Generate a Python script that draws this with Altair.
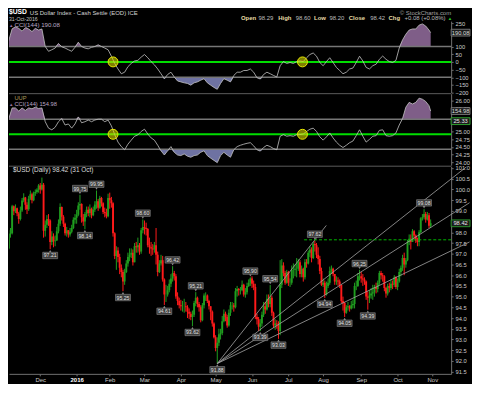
import altair as alt
import pandas as pd

# ---------------- data ----------------
# $USD daily candles, trading days 2 Nov 2015 .. 31 Oct 2016 (index 0..257)
close_px = [
    # Nov 2015
    97.18, 97.25, 97.92, 97.95, 99.22, 98.98, 99.12, 98.88, 98.62, 99.02, 99.48, 99.62, 99.28, 99.08, 99.56, 99.78, 99.50, 99.82, 99.88, 99.98, 100.18,
    # Dec 2015
    100.00, 100.22, 98.07, 98.35, 98.62, 98.55, 97.55, 97.80, 97.58, 97.62, 98.05, 98.40, 99.18, 98.72, 98.40, 97.95, 98.10, 97.90, 98.02, 98.20, 98.58, 98.68,
    # Jan 2016
    98.82, 99.25, 99.32, 98.70, 98.50, 98.85, 99.05, 98.90, 99.10, 98.80, 99.05, 99.30, 99.45, 99.15, 99.60, 99.35, 98.95, 98.90, 98.75, 99.60,
    # Feb
    99.50, 99.35, 97.95, 96.90, 97.15, 96.85, 96.35, 96.15, 95.70, 96.15, 96.55, 96.85, 96.95, 97.05, 96.60, 97.35, 97.30, 97.40, 97.10, 98.10, 98.25,
    # Mar
    98.20, 98.15, 97.40, 97.30, 97.25, 97.20, 97.40, 96.95, 96.15, 96.55, 96.70, 95.80, 95.10, 95.10, 95.30, 95.60, 95.85, 96.10, 95.95, 95.00, 94.80, 94.60,
    # Apr
    94.55, 94.55, 94.55, 94.50, 94.30, 94.20, 94.05, 94.15, 94.70, 94.95, 94.65, 94.50, 93.90, 94.60, 95.05, 95.05, 94.80, 94.55, 94.30, 93.75, 93.10,
    # May
    92.60, 92.85, 93.25, 93.30, 93.85, 94.20, 94.05, 93.65, 94.25, 94.60, 94.60, 94.50, 95.25, 95.35, 95.30, 95.30, 95.55, 95.10, 95.20, 95.50, 95.65, 95.85,
    # Jun
    95.60, 95.45, 94.05, 93.95, 93.60, 93.75, 94.15, 94.55, 94.40, 94.90, 94.65, 94.95, 94.25, 93.65, 93.75, 93.70, 93.40, 95.55, 96.45, 96.10, 95.65, 96.15,
    # Jul
    95.65, 95.65, 96.25, 96.25, 96.30, 96.30, 96.60, 96.05, 96.30, 95.90, 96.60, 96.55, 97.05, 97.20, 96.80, 97.45, 97.40, 96.95, 96.75, 96.20, 95.55,
    # Aug
    95.65, 95.10, 95.50, 95.65, 96.20, 96.30, 96.05, 95.70, 95.75, 95.70, 95.55, 94.80, 94.70, 94.25, 94.50, 94.55, 94.45, 94.60, 94.65, 95.50, 95.50, 95.95, 95.95,
    # Sep
    95.85, 95.80, 95.70, 95.00, 94.95, 95.05, 95.15, 95.20, 95.45, 95.35, 95.65, 96.10, 96.00, 95.95, 95.40, 95.15, 95.50, 95.40, 95.60, 95.55, 95.90, 95.45,
    # Oct
    95.70, 96.15, 96.35, 96.80, 96.50, 96.70, 97.55, 97.70, 97.55, 98.05, 97.85, 97.60, 97.55, 98.00, 98.65, 98.70, 98.85, 98.60, 98.80, 98.30, 98.42,
]
high_px = [
    97.40, 97.55, 98.10, 98.20, 99.28, 99.25, 99.30, 99.15, 98.95, 99.20, 99.60, 99.82, 99.65, 99.40, 99.70, 99.95, 99.85, 99.90, 100.00, 100.05, 100.25,
    100.30, 100.55, 100.30, 98.55, 98.80, 98.85, 98.60, 98.05, 97.95, 97.85, 98.25, 98.60, 99.35, 99.20, 98.80, 98.45, 98.25, 98.10, 98.20, 98.35, 98.70, 98.85,
    99.05, 99.40, 99.75, 99.35, 98.85, 98.95, 99.20, 99.20, 99.30, 99.15, 99.20, 99.45, 99.95, 99.55, 99.70, 99.65, 99.40, 99.15, 99.10, 99.80,
    99.85, 99.65, 99.40, 98.00, 97.35, 97.30, 97.00, 96.50, 96.25, 96.30, 96.70, 97.05, 97.25, 97.25, 97.20, 97.50, 97.55, 97.75, 97.50, 98.20, 98.60,
    98.55, 98.45, 98.20, 97.75, 97.55, 97.45, 97.55, 98.20, 97.10, 96.70, 96.95, 96.90, 95.85, 95.55, 95.50, 95.80, 96.05, 96.42, 96.20, 96.05, 95.20, 94.95,
    94.85, 94.80, 94.90, 94.75, 94.60, 94.45, 94.30, 94.35, 94.80, 95.21, 95.00, 94.75, 94.60, 94.70, 95.15, 95.20, 95.10, 94.85, 94.55, 94.35, 93.80,
    93.20, 93.10, 93.50, 93.50, 94.10, 94.40, 94.30, 94.15, 94.40, 94.75, 94.75, 94.70, 95.40, 95.50, 95.40, 95.45, 95.75, 95.60, 95.40, 95.65, 95.80, 95.90,
    95.95, 95.75, 95.60, 94.20, 94.05, 93.95, 94.30, 94.75, 94.75, 95.10, 95.10, 95.54, 95.05, 94.30, 93.95, 93.90, 93.85, 96.70, 96.75, 96.60, 96.20, 96.25,
    96.20, 95.85, 96.45, 96.55, 96.50, 96.80, 96.75, 96.70, 96.45, 96.35, 96.75, 96.75, 97.15, 97.35, 97.30, 97.55, 97.62, 97.50, 97.30, 96.90, 96.35,
    95.85, 95.75, 95.70, 95.85, 96.40, 96.45, 96.35, 96.05, 95.95, 95.90, 95.80, 95.55, 95.00, 94.75, 94.60, 94.75, 94.60, 94.80, 94.85, 95.65, 95.75, 96.10, 96.25,
    96.15, 96.05, 95.90, 95.75, 95.25, 95.30, 95.40, 95.55, 95.55, 95.65, 95.75, 96.20, 96.20, 96.10, 96.00, 95.45, 95.60, 95.65, 95.80, 95.75, 96.00, 95.95,
    95.85, 96.30, 96.45, 96.95, 97.05, 96.80, 97.65, 97.90, 97.90, 98.15, 98.10, 97.90, 97.75, 98.10, 98.70, 98.85, 99.08, 98.95, 98.95, 98.90, 98.60,
]
low_px = [
    96.90, 96.95, 97.20, 97.75, 97.90, 98.80, 98.90, 98.75, 98.40, 98.55, 98.95, 99.40, 99.05, 98.85, 99.00, 99.50, 99.35, 99.45, 99.70, 99.80, 99.85,
    99.80, 99.95, 97.75, 97.80, 98.20, 98.30, 97.21, 97.40, 97.30, 97.35, 97.60, 97.95, 98.30, 98.55, 98.25, 97.85, 97.80, 97.75, 97.80, 97.95, 98.15, 98.40,
    98.40, 98.75, 99.05, 98.45, 98.30, 98.14, 98.70, 98.75, 98.70, 98.65, 98.75, 98.95, 99.10, 99.00, 99.10, 99.20, 98.85, 98.70, 98.65, 98.70,
    99.10, 99.15, 97.80, 96.75, 96.25, 96.60, 96.05, 95.90, 95.25, 95.55, 96.10, 96.40, 96.65, 96.80, 96.45, 96.65, 97.05, 97.05, 96.95, 97.00, 97.95,
    97.90, 97.85, 97.30, 97.00, 96.90, 96.95, 97.05, 96.50, 95.95, 96.10, 96.45, 95.70, 94.61, 94.75, 95.00, 95.20, 95.45, 95.70, 95.75, 94.90, 94.60, 94.45,
    94.35, 94.30, 94.25, 94.30, 94.00, 93.95, 93.90, 93.62, 94.05, 94.55, 94.50, 94.30, 93.80, 93.85, 94.45, 94.80, 94.70, 94.40, 93.90, 93.60, 93.05,
    92.45, 91.88, 92.70, 93.00, 93.20, 93.80, 93.85, 93.55, 93.60, 94.10, 94.40, 94.30, 94.45, 95.00, 95.05, 95.10, 95.25, 95.00, 94.95, 95.10, 95.45, 95.50,
    95.40, 95.30, 93.95, 93.70, 93.40, 93.39, 93.60, 94.05, 94.20, 94.35, 94.50, 94.50, 94.10, 93.55, 93.45, 93.50, 93.03, 93.20, 95.40, 95.95, 95.55, 95.60,
    95.50, 95.45, 95.55, 95.85, 95.95, 95.90, 96.20, 95.90, 95.90, 95.70, 95.80, 96.35, 96.50, 96.85, 96.60, 96.75, 97.10, 96.80, 96.50, 96.05, 95.50,
    95.45, 94.94, 95.05, 95.40, 95.55, 96.05, 95.95, 95.55, 95.55, 95.50, 95.40, 94.70, 94.35, 94.05, 94.20, 94.35, 94.30, 94.40, 94.45, 94.45, 95.30, 95.45, 95.75,
    95.65, 95.50, 95.55, 94.85, 94.39, 94.70, 94.90, 94.85, 95.00, 95.15, 95.20, 95.55, 95.80, 95.70, 95.25, 94.95, 95.05, 95.20, 95.30, 95.35, 95.45, 95.35,
    95.30, 95.65, 95.95, 96.20, 96.00, 96.35, 96.65, 97.40, 97.20, 97.55, 97.70, 97.50, 97.35, 97.35, 97.95, 98.55, 98.60, 98.45, 98.55, 98.20, 98.20,
]
first_open = 97.00

# month ticks (trading-day index of first session of each month)
month_start_idx = [21, 43, 63, 84, 106, 127, 149, 171, 192, 215, 237, 258]
month_labels = ["Dec", "2016", "Feb", "Mar", "Apr", "May", "Jun", "Jul", "Aug", "Sep", "Oct", "Nov"]

# CCI(144) sampled every 2nd session, plus the last session
cci_usd = [
    55, 140, 215, 228, 218, 200, 222, 214, 197, 218,
    207, 214, 100, 69, 79, 90, 120, 98, 90, 79,
    69, 95, 128, 100, 90, 85, 95, 100, 111, 100,
    90, 79, 37, -10, -46, -77, -67, -31, -10, 6,
    10, 31, 48, 27, 2, -19, -46, -77, -109, -82,
    -67, -98, -124, -130, -136, -140, -151, -136, -130, -119,
    -109, -136, -151, -166, -178, -140, -109, -119, -130, -88,
    -67, -67, -56, -56, -46, -67, -103, -111, -82, -67,
    -77, -88, -98, -25, 2, -10, -4, -10, 2, 6,
    2, 27, 48, 58, 37, -4, -25, 2, 27, -4,
    -36, -56, -77, -67, -46, -40, -4, 37, 6, -36,
    -46, -25, -15, 17, 38, 17, 2, -4, 10, 90,
    143, 180, 207, 214, 214, 239, 247, 233, 207,
    190.08,
]
cci_uup = [
    19, 105, 176, 176, 155, 176, 159, 176, 170, 181,
    172, 176, 84, 41, 30, 47, 84, 105, 62, 69,
    41, 69, 116, 77, 84, 95, 84, 95, 101, 101,
    84, 95, 56, -2, -52, -82, -103, -66, -39, -13,
    -4, 19, 34, 2, -24, -39, -73, -110, -138, -110,
    -82, -120, -138, -142, -131, -146, -153, -142, -138, -120,
    -110, -142, -159, -174, -189, -142, -120, -138, -153, -103,
    -82, -73, -66, -60, -56, -77, -103, -112, -88, -73,
    -82, -95, -103, -13, -2, -13, -9, -13, -2, -2,
    2, 19, 34, 41, 19, -17, -39, -17, 9, -24,
    -52, -73, -88, -73, -56, -45, -9, 30, -13, -52,
    -34, -13, -9, 26, 30, -9, -13, -9, 9, 62,
    105, 181, 213, 202, 213, 241, 234, 219, 191,
    154.98,
]
uup_last = 25.33

# annotated swing highs / lows
pivot_idx = [27, 45, 48, 55, 71, 83, 96, 101, 113, 115, 128, 148, 154, 160, 165, 187, 193, 205, 214, 219, 253]
pivot_val = [97.21, 99.75, 98.14, 99.95, 95.25, 98.60, 94.61, 96.42, 93.62, 95.21, 91.88, 95.90, 93.39, 95.54, 93.03,
             97.62, 94.94, 94.05, 96.25, 94.39, 99.08]
pivot_side = ["low", "high", "low", "high", "low", "high", "low", "high", "low", "high", "low", "high", "low", "high", "low",
              "high", "low", "low", "high", "low", "high"]

# fan trend lines from the May low (end points where they leave the picture)
fan_start_idx = 128
fan_start_px = 91.88
fan_end_idx = [193.9, 278.6, 280.5, 280.5]
fan_end_px = [98.32, 101.05, 99.38, 97.55]

# horizontal resistance (dashed)
res_level = 97.65
res_from_idx = 180.5
res_to_idx = 269.4

# CCI zero-line crossing markers
signal_idx = [65, 179.5]

last_close = 98.42

# ---------------- styling / layout ----------------
FN = "Liberation Sans, Arial, sans-serif"
GREEN = "#1f9e1f"
RED = "#ff1a1a"
W = 445
X_DOM = [2.102, 269.37]
BOX_X = W + 9.5

xs = alt.Scale(domain=X_DOM, nice=False, zero=False)


def label(text, x, y, size, color, weight="normal", align="left", baseline="alphabetic"):
    return alt.Chart(pd.DataFrame({"t": [text]})).mark_text(
        align=align, baseline=baseline, font=FN, fontSize=size,
        fontWeight=weight, color=color
    ).encode(x=alt.value(x), y=alt.value(y), text="t:N")


def box_shape(half_h):
    return f"M-1,-{half_h}L1,-{half_h}L1,{half_h}L-1,{half_h}Z"


# ---------------- header ----------------
LBL = "#e6dca6"
VAL = "#bdbdbd"
RY = 6.3
hdr = [
    label("$USD", 0, 0.2, 6.8, "#ffffff", "bold", baseline="top"),
    label("US Dollar Index - Cash Settle (EOD) ICE", 21, 1.0, 6, "#d4d4d4", baseline="top"),
    label("31-Oct-2016", 0, 7.7, 5.2, "#c4c4c4", baseline="top"),
    label("\u00a9 StockCharts.com", 445, 0.4, 6, "#a0a0a0", align="right", baseline="top"),
    label("Open", 233.5, RY, 6, LBL, "bold", baseline="top"),
    label("98.29", 251, RY, 6, VAL, baseline="top"),
    label("High", 271, RY, 6, LBL, "bold", baseline="top"),
    label("98.60", 288.5, RY, 6, VAL, baseline="top"),
    label("Low", 307, RY, 6, LBL, "bold", baseline="top"),
    label("98.20", 322.5, RY, 6, VAL, baseline="top"),
    label("Close", 342, RY, 6, LBL, "bold", baseline="top"),
    label("98.42", 363.5, RY, 6, VAL, baseline="top"),
    label("Chg", 382, RY, 6, LBL, "bold", baseline="top"),
    label("+0.08 (+0.08%)", 398, RY, 6, VAL, baseline="top"),
    label("\u25b2", 441.5, RY + 1, 4.5, "#22cc22", baseline="top"),
]
header = alt.layer(*hdr).properties(width=W, height=11)


# ---------------- CCI panels ----------------
cci_idx = list(range(0, 257, 2)) + [257]


def cci_frame(vals):
    df = pd.DataFrame({"idx": cci_idx, "v": vals})
    df["hi"] = df["v"].clip(lower=100)
    df["b_hi"] = 100
    df["lo"] = df["v"].clip(upper=-100)
    df["b_lo"] = -100
    return df


def cci_layers(df, ys, axis):
    x = alt.X("idx:Q", scale=xs, axis=None)
    area_hi = alt.Chart(df).mark_area(clip=True, color="#7f5e88").encode(
        x=x, y=alt.Y("hi:Q", scale=ys, axis=axis), y2="b_hi:Q")
    area_lo = alt.Chart(df).mark_area(clip=True, color="#6e72a2").encode(
        x=x, y=alt.Y("lo:Q", scale=ys, axis=axis), y2="b_lo:Q")
    lv = alt.Chart(pd.DataFrame({"lv": [100, -100]})).mark_rule(
        color="#767676", strokeWidth=1.5).encode(y=alt.Y("lv:Q", scale=ys, axis=axis))
    zero = alt.Chart(pd.DataFrame({"lv": [0]})).mark_rule(
        color="#00dd00", strokeWidth=2).encode(y=alt.Y("lv:Q", scale=ys, axis=axis))
    line = alt.Chart(df).mark_line(clip=True, color="#c4c4c4", strokeWidth=0.8).encode(
        x=x, y=alt.Y("v:Q", scale=ys, axis=axis))
    sig = alt.Chart(pd.DataFrame({"idx": signal_idx, "v": [0, 0]})).mark_point(
        shape="circle", size=100, filled=True, fill="#d4d400", fillOpacity=0.6,
        stroke="#e8e800", strokeWidth=1, opacity=1).encode(
        x=alt.X("idx:Q", scale=xs, axis=None), y=alt.Y("v:Q", scale=ys, axis=axis))
    return [area_hi, area_lo, lv, zero, line, sig]


def value_box(val, text, ys, axis, stroke, text_color):
    df = pd.DataFrame({"v": [val], "t": [text]})
    b = alt.Chart(df).mark_point(
        shape=box_shape(0.36), size=361, filled=True, fill="#1c1c1c", stroke=stroke,
        strokeWidth=0.8, opacity=1).encode(x=alt.value(BOX_X), y=alt.Y("v:Q", scale=ys, axis=axis))
    t = alt.Chart(df).mark_text(font=FN, fontSize=5.8, color=text_color, baseline="middle").encode(
        x=alt.value(BOX_X), y=alt.Y("v:Q", scale=ys, axis=axis), text="t:N")
    return [b, t]


# Panel 1: $USD CCI(144)
ys1 = alt.Scale(domain=[-200, 265], nice=False, zero=False)
ax1 = alt.Axis(orient="right", values=[-200, -150, -100, -50, 0, 50, 100, 250], title=None, labelOverlap=False)
df1 = cci_frame(cci_usd)
p1 = alt.layer(
    *cci_layers(df1, ys1, ax1),
    *value_box(cci_usd[-1], f"{cci_usd[-1]:.2f}", ys1, ax1, "#8a8a8a", "#dddddd"),
    label("\u25b2", 0, 6, 4.5, "#8f6f9a"),
    label(f"CCI(144) {cci_usd[-1]:.2f}", 5.5, 6, 6.2, "#b8a8c4"),
).properties(width=W, height=72)

# Panel 2: UUP CCI(144) with UUP price axis
ys2 = alt.Scale(domain=[-206, 271], nice=False, zero=False)
ys2p = alt.Scale(domain=[23.906, 26.219], nice=False, zero=False)
df2 = cci_frame(cci_uup)
top_rule = alt.Chart(pd.DataFrame({"a": [0]})).mark_rule(color="#5c5c5c", strokeWidth=1).encode(y=alt.value(0))
p2_cci = alt.layer(
    top_rule,
    *cci_layers(df2, ys2, None),
    *value_box(cci_uup[-1], f"{cci_uup[-1]:.2f}", ys2, None, "#8a8a8a", "#dddddd"),
    label("UUP", 5.5, 6.3, 5.8, "#ab9c5c"),
    label("\u25b2", 0, 12.1, 4.5, "#8f6f9a"),
    label(f"CCI(144) {cci_uup[-1]:.2f}", 5.5, 12.1, 5.8, "#b8a8c4"),
)
uup_df = pd.DataFrame({"v": [uup_last], "t": [f"{uup_last:.2f}"]})
ax2 = alt.Axis(orient="right", values=[24.0, 24.25, 24.5, 24.75, 25.0, 25.75, 26.0], format=".2f",
               title=None, labelOverlap=False)
p2_px_box = alt.Chart(uup_df).mark_point(
    shape=box_shape(0.36), size=361, filled=True, fill="#1c1c1c", stroke="#2fae2f",
    strokeWidth=0.9, opacity=1).encode(x=alt.value(BOX_X), y=alt.Y("v:Q", scale=ys2p, axis=ax2))
p2_px_txt = alt.Chart(uup_df).mark_text(font=FN, fontSize=5.8, color="#e8e8e8", baseline="middle").encode(
    x=alt.value(BOX_X), y=alt.Y("v:Q", scale=ys2p, axis=ax2), text="t:N")
p2 = alt.layer(p2_cci, alt.layer(p2_px_box, p2_px_txt)).resolve_scale(y="independent").properties(
    width=W, height=72)

# ---------------- Panel 3: price candles ----------------
n = len(close_px)
open_px = [first_open] + close_px[:-1]
candles = pd.DataFrame({
    "idx": list(range(n)),
    "open": open_px,
    "close": close_px,
    "high": [max(h, o, c) for h, o, c in zip(high_px, open_px, close_px)],
    "low": [min(l, o, c) for l, o, c in zip(low_px, open_px, close_px)],
})
candles["dir"] = ["up" if c >= o else "down" for o, c in zip(open_px, close_px)]

ys3 = alt.Scale(domain=[91.398, 101.083], nice=False, zero=False)
price_ticks = [91.5, 92.0, 92.5, 93.0, 93.5, 94.0, 94.5, 95.0, 95.5, 96.0, 96.5, 97.0, 97.5, 98.0,
               99.0, 99.5, 100.0, 100.5, 101.0]
lab_expr = ("[" + ",".join(f"'{m}'" for m in month_labels) + "][indexof(["
            + ",".join(str(i) for i in month_start_idx) + "], datum.value)]")
year_tick = month_start_idx[month_labels.index("2016")]
x_axis = alt.Axis(values=month_start_idx, labelExpr=lab_expr, title=None, labelOverlap=False,
                  labelFontSize=6,
                  labelFontWeight={"condition": {"test": f"datum.value == {year_tick}", "value": "bold"},
                                   "value": "normal"},
                  labelColor={"condition": {"test": f"datum.value == {year_tick}", "value": "#ffffff"},
                              "value": "#cccccc"},
                  labelPadding=0.5, tickSize=2)
y3_axis = alt.Axis(orient="right", values=price_ticks, format=".1f", title=None, labelOverlap=False)


def X3(f):
    return alt.X(f, scale=xs, axis=x_axis)


def Y3(f):
    return alt.Y(f, scale=ys3, axis=y3_axis)


col = alt.Color("dir:N", scale=alt.Scale(domain=["up", "down"], range=[GREEN, RED]), legend=None)

wicks = alt.Chart(candles).mark_rule(strokeWidth=1.0, clip=True).encode(
    x=X3("idx:Q"), y=Y3("low:Q"), y2="high:Q", color=col)
bodies = alt.Chart(candles).mark_rule(strokeWidth=1.9, clip=True).encode(
    x=X3("idx:Q"), y=Y3("open:Q"), y2="close:Q", color=col)

fan_rows = []
for k, (ei, ep) in enumerate(zip(fan_end_idx, fan_end_px)):
    fan_rows.append({"line": k, "idx": fan_start_idx, "px": fan_start_px})
    fan_rows.append({"line": k, "idx": ei, "px": ep})
fans = alt.Chart(pd.DataFrame(fan_rows)).mark_line(color="#a4a4a4", strokeWidth=0.8).encode(
    x=X3("idx:Q"), y=Y3("px:Q"), detail="line:N")

res = alt.Chart(pd.DataFrame({"a": [res_from_idx], "b": [res_to_idx], "y": [res_level]})).mark_rule(
    color="#00b800", strokeWidth=1, strokeDash=[3, 2]).encode(
    x=X3("a:Q"), x2="b:Q", y=Y3("y:Q"))

piv = pd.DataFrame({"idx": pivot_idx, "v": pivot_val, "side": pivot_side})
piv["t"] = [f"{v:.2f}" for v in pivot_val]


def pivot_layers(df, off, tri):
    enc = dict(x=X3("idx:Q"), y=Y3("v:Q"))
    pointer = alt.Chart(df).mark_point(shape=tri, size=7, filled=True, color="#8a8a8a", opacity=1,
                                       yOffset=off * 0.3).encode(**enc)
    bx = alt.Chart(df).mark_point(shape=box_shape(0.43), size=225, filled=True, fill="#3c3c3c",
                                  stroke="#8c8c8c", strokeWidth=0.6, opacity=1, yOffset=off).encode(**enc)
    tx = alt.Chart(df).mark_text(font=FN, fontSize=5.2, color="#e0e0e0", baseline="middle",
                                 yOffset=off).encode(text="t:N", **enc)
    return [pointer, bx, tx]


piv_hi = pivot_layers(piv[piv.side == "high"], -6.3, "triangle-down")
piv_lo = pivot_layers(piv[piv.side == "low"], 6.3, "triangle-up")

p3_top = alt.Chart(pd.DataFrame({"a": [0]})).mark_rule(color="#5c5c5c", strokeWidth=1).encode(y=alt.value(0))

p3 = alt.layer(
    p3_top, wicks, bodies, fans, res, *piv_hi, *piv_lo,
    *value_box(last_close, f"{last_close:.2f}", ys3, y3_axis, "#2fae2f", "#e8e8e8"),
    label(f"$USD (Daily) {last_close:.2f} (31 Oct)", 4, 6.3, 6.5, "#dcdcdc"),
).properties(width=W, height=209)

chart = alt.vconcat(header, p1, p2, p3, spacing=1, bounds="flush").properties(
    background="#000000", padding=0
).configure_view(strokeWidth=0).configure_axis(
    labelFont=FN, labelFontSize=5.8, labelColor="#cccccc", domainColor="#707070",
    tickColor="#707070", tickSize=2, labelPadding=2, grid=False
)

chart.save("out.html", embed_options={"renderer": "svg", "actions": False})
